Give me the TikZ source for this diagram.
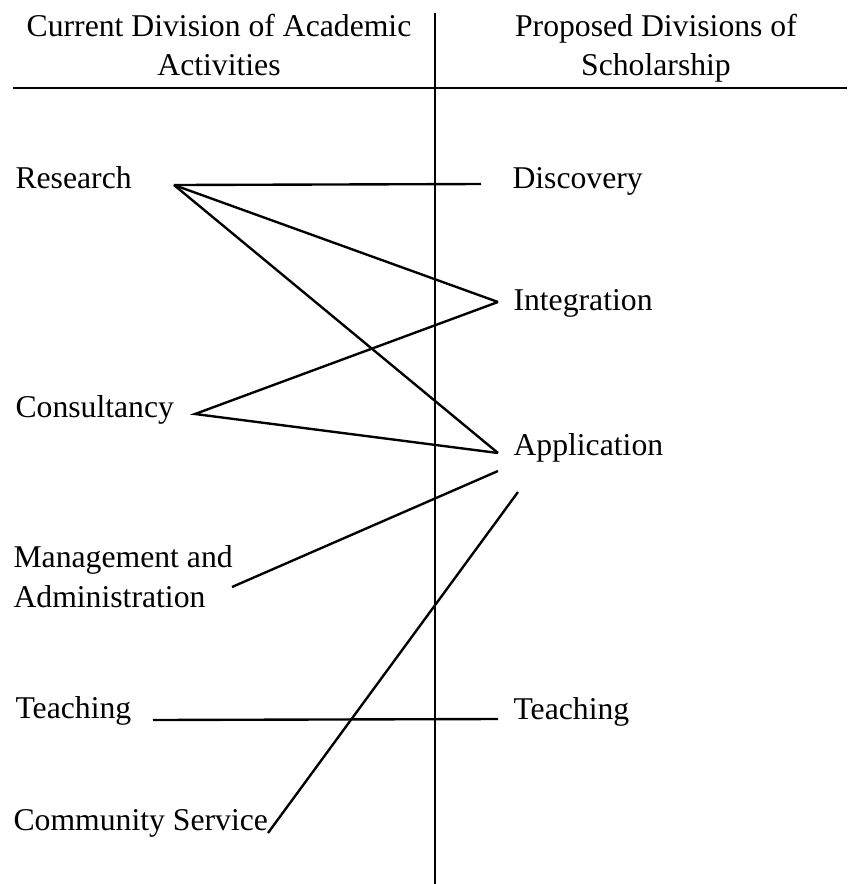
\documentclass[tikz,border=0pt]{standalone}
\usepackage{fontspec}
\setmainfont{Liberation Serif}
\usetikzlibrary{positioning}

\begin{document}
\begin{tikzpicture}[x=0.0133cm,y=-0.0133cm,font=\fontsize{12}{14.5}\selectfont,
 label/.style={anchor=base west,inner sep=0pt},
 head/.style={anchor=base,inner sep=0pt,align=center},
 link/.style={line width=0.9pt}]
\useasboundingbox (0,0) rectangle (849,884);
% column headings and dividing rules (base = last line)
\node[head] (curhead) at (219,75) {Current Division of Academic\\Activities};
\node[head] (prohead) at (656,75) {Proposed Divisions of\\Scholarship};
\coordinate (rule-l) at (13,88);
\coordinate (rule-r) at (847,88);
\coordinate (div-t) at (435,13);
\coordinate (div-b) at (435,884);
\draw[line width=1.1pt] (rule-l) -- (rule-r);
\draw[line width=0.7pt] (div-t) -- (div-b);
% left column
\node[label] (research) at (15,188) {Research};
\node[label] (consult) at (15,417) {Consultancy};
\node[label,align=left,font=\fontsize{12}{15}\selectfont] (manage) at (13,607) {Management and\\Administration};
\node[label] (teachl) at (15,718) {Teaching};
\node[label] (commun) at (13,830) {Community Service};
% right column
\node[label] (discov) at (512,188) {Discovery};
\node[label] (integr) at (513,310) {Integration};
\node[label] (applic) at (513,455) {Application};
\node[label] (teachr) at (513,719) {Teaching};
% line ends
\coordinate (res) at (174,185);
\coordinate (con) at (195,414);
\coordinate (man) at (232,587);
\coordinate (tea) at (153,720);
\coordinate (com) at (268,833);
\coordinate (dis) at (481,184);
\coordinate (int) at (498,302);
\coordinate (app-a) at (498,453);
\coordinate (app-b) at (498,471);
\coordinate (app-c) at (518,492);
\coordinate (tea-r) at (498,719);
% links between the two columns
\draw[link] (res) -- (dis);
\draw[link] (res) -- (int);
\draw[link] (res) -- (app-a);
\draw[link] (int) -- (con) -- (app-a);
\draw[link] (man) -- (app-b);
\draw[link] (tea) -- (tea-r);
\draw[link] (com) -- (app-c);
\end{tikzpicture}
\end{document}
